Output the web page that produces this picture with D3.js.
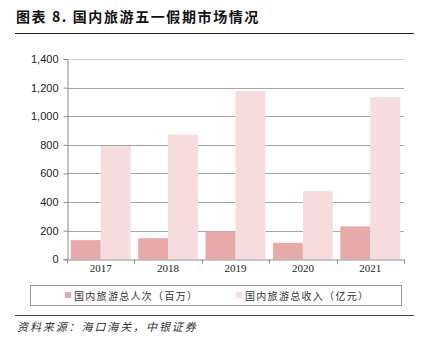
<!DOCTYPE html>
<html><head><meta charset="utf-8">
<script src="https://cdn.jsdelivr.net/npm/d3@7"></script>
<style>body{margin:0;background:#fff}svg{display:block}</style>
</head><body><svg id="c" width="421" height="347"></svg>
<script>
const categories = ["2017","2018","2019","2020","2021"];
const seriesNames = ["国内旅游总人次（百万）","国内旅游总收入（亿元）"];
const trips = [134, 147, 195, 115, 230];
const revenue = [791.7, 871.6, 1176.7, 475.6, 1132.3];
const yTicks = [0,200,400,600,800,1000,1200,1400];
const colors = ["#e8a9a9","#f6dcdc"];

const svg = d3.select("#c");
const m = {l:67, r:404, t:59, b:259.3};
const x = d3.scaleBand().domain(categories).range([m.l, m.r]).paddingInner(0).paddingOuter(0);
const xs = d3.scaleBand().domain([0,1]).range([0, x.bandwidth()]).paddingOuter(0.125).paddingInner(0);
const y = d3.scaleLinear().domain([0,1400]).range([m.b, m.t]);

// title
svg.append("text").attr("x",16).attr("y",22).text("图表 8. 国内旅游五一假期市场情况")
  .style("font-family","'Noto Sans CJK SC'").style("font-weight","bold").style("font-size","14px")
  .style("letter-spacing","1.6px").attr("fill","#111");
svg.append("line").attr("x1",15).attr("x2",414).attr("y1",33.5).attr("y2",33.5).attr("stroke","#222").attr("stroke-width",1);

// gridlines
svg.append("g").selectAll("line").data(yTicks.filter(d=>d>0)).join("line")
  .attr("x1",m.l).attr("x2",m.r).attr("y1",d=>Math.round(y(d))+0.5).attr("y2",d=>Math.round(y(d))+0.5)
  .attr("stroke",d=>d===1400?"#d0d0d0":"#a6a6a6").attr("stroke-width",1);

// bars
const data = [trips, revenue];
data.forEach((vals,si)=>{
  svg.append("g").selectAll("rect").data(categories).join("rect")
    .attr("x",(c)=>x(c)+xs(si)).attr("width",xs.bandwidth())
    .attr("y",(c,i)=>y(vals[i])).attr("height",(c,i)=>y(0)-y(vals[i]))
    .attr("fill",colors[si]);
});

// y axis
const ya = svg.append("g").attr("transform",`translate(${m.l+0.5},0)`)
  .call(d3.axisLeft(y).tickValues(yTicks).tickSize(4).tickFormat(d3.format(",")));
ya.select(".domain").attr("stroke","#8c8c8c");
ya.selectAll(".tick line").attr("stroke","#8c8c8c");
ya.selectAll("text").style("font-family","'Liberation Sans',Arial").style("font-size","11px").attr("fill","#222").attr("x",-9);

// x axis
const xa = svg.append("g").attr("transform",`translate(0,${Math.round(m.b)+0.5})`)
  .call(d3.axisBottom(x).tickSizeOuter(0).tickSize(0));
xa.select(".domain").attr("stroke","#8c8c8c");
xa.selectAll("text").style("font-family","'Liberation Serif',serif").style("font-size","11px").attr("fill","#222").attr("dy","0.9em");
// boundary ticks
const bounds = categories.map(c=>x(c)).concat([x(categories[categories.length-1])+x.bandwidth()]);
xa.append("g").selectAll("line").data(bounds).join("line")
  .attr("x1",d=>Math.round(d)+0.5).attr("x2",d=>Math.round(d)+0.5).attr("y1",0).attr("y2",4).attr("stroke","#8c8c8c");

// legend
svg.append("rect").attr("x",30.5).attr("y",285.5).attr("width",371).attr("height",20).attr("fill","none").attr("stroke","#999");
const lx = [65, 236];
seriesNames.forEach((n,i)=>{
  svg.append("rect").attr("x",lx[i]).attr("y",292).attr("width",6).attr("height",6).attr("fill",colors[i]);
  svg.append("text").attr("x",lx[i]+9).attr("y",299.5).text(n)
    .style("font-family","'Noto Sans CJK SC'").style("font-size","10px").style("letter-spacing","1.3px").attr("fill","#333");
});

svg.append("line").attr("x1",15).attr("x2",414).attr("y1",315.5).attr("y2",315.5).attr("stroke","#444").attr("stroke-width",1);
svg.append("text").attr("x",17).attr("y",331).text("资料来源：海口海关，中银证券")
  .style("font-family","'Noto Sans CJK SC'").style("font-style","italic").style("font-size","11px")
  .style("letter-spacing","1.9px").attr("fill","#333");
</script></body></html>
